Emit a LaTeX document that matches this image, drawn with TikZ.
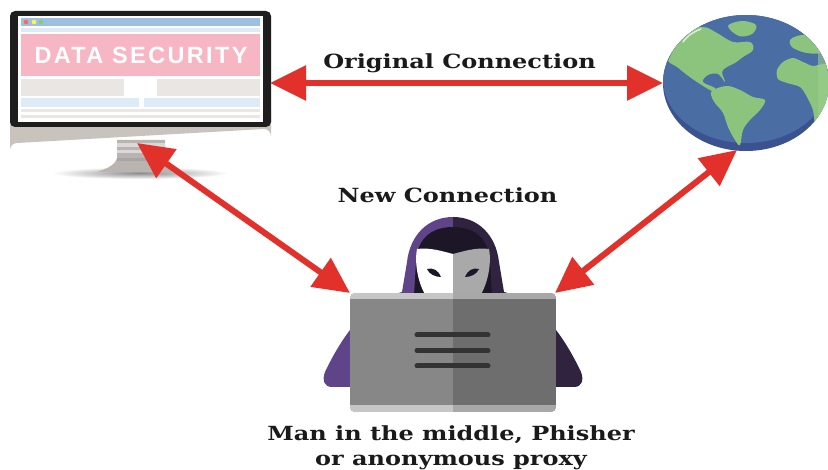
\documentclass[tikz,border=0pt]{standalone}
\usepackage{fontspec}
\usetikzlibrary{arrows.meta}
\newfontfamily\capfont{DejaVu Serif}[FakeStretch=1.23]
\newfontfamily\bannerfont{Liberation Sans}[LetterSpace=10]

\definecolor{arrowred}{HTML}{E2312B}
\definecolor{bezel}{HTML}{1E1E1E}
\definecolor{chin}{HTML}{C9C3BD}
\definecolor{standgrey}{HTML}{B9B4AF}
\definecolor{barblue}{HTML}{9DC0E0}
\definecolor{paleblue}{HTML}{DDEBF6}
\definecolor{bannerpink}{HTML}{F6B6C4}
\definecolor{boxgrey}{HTML}{EAE6E3}
\definecolor{seablue}{HTML}{4A6DA3}
\definecolor{seadark}{HTML}{3B5290}
\definecolor{land}{HTML}{8CC47E}
\definecolor{landlight}{HTML}{9ACF8C}
\definecolor{hoodlight}{HTML}{5F4489}
\definecolor{hooddark}{HTML}{30233F}
\definecolor{hoodin}{HTML}{1C1627}
\definecolor{maskgrey}{HTML}{A9A9A9}
\definecolor{lapleft}{HTML}{878787}
\definecolor{lapright}{HTML}{6E6E6E}
\definecolor{lapedgeL}{HTML}{C6C6C6}
\definecolor{lapedgeR}{HTML}{A8A8A8}
\definecolor{inkdark}{HTML}{1A1A1A}

\tikzset{
  lbl/.style={font=\capfont\bfseries\fontsize{19.5}{22}\selectfont, text=inkdark, inner sep=0pt, anchor=base},
  conn/.style={draw=arrowred, fill=arrowred, line width=6pt,
    {Triangle[length=36pt,width=34pt]}-{Triangle[length=36pt,width=34pt]}},
  menuline/.style={draw=black!80, line width=5pt, line cap=round},
}

\begin{document}
\begin{tikzpicture}[x=1pt,y=-1pt]
\useasboundingbox (0,0) rectangle (828,470);
\fill[white] (0,0) rectangle (828,470);

% ---------- desktop computer ----------
\shade[inner color=black!45, outer color=white] (140,173) ellipse [x radius=88pt, y radius=6pt];
% stand
\fill[standgrey] (117,140) -- (165,140) -- (165,158)
  .. controls (167,166) and (173,169) .. (181,172) -- (97,172)
  .. controls (105,169) and (115,166) .. (117,158) -- cycle;
\fill[black!15] (117,150) rectangle (165,153);
\fill[black!35] (117,158) rectangle (165,161);
\fill[white!85!black] (117,143) rectangle (165,147);
% body
\fill[chin] (10,110) -- (271,110) -- (271,136) arc[start angle=0, end angle=90, radius=7pt]
  -- (17,143) arc[start angle=90, end angle=180, radius=7pt] -- cycle;
\fill[bezel, rounded corners=5pt] (10,11) rectangle (271,127);
\fill[white] (18,16) rectangle (263,122);
% screen contents
\fill[barblue] (21,18) rectangle (260,26);
\fill[red!60!white] (26,22) circle[radius=2.3pt];
\fill[yellow!70!white] (34,22) circle[radius=2.3pt];
\fill[green!45!gray!70!white] (41,22) circle[radius=2.3pt];
\fill[paleblue] (21,28) rectangle (260,32);
\fill[bannerpink] (21,34) rectangle (260,76);
\node[font=\bannerfont\bfseries\fontsize{23.5}{26}\selectfont, text=white, inner sep=0pt] (banner) at (141,55.5) {DATA SECURITY};
\fill[boxgrey] (21,79) rectangle (124,96);
\fill[boxgrey] (157,79) rectangle (260,96);
\fill[paleblue] (21,98) rectangle (139,107);
\fill[paleblue] (144,98) rectangle (260,107);
\fill[boxgrey] (21,109) rectangle (260,112);
\fill[boxgrey] (21,115) rectangle (260,118);

% ---------- globe ----------
\fill[seadark] (746,83) ellipse [x radius=83pt, y radius=68pt];
\begin{scope}
  \clip (746,83) ellipse [x radius=83pt, y radius=68pt];
  \fill[seablue] (746,79) ellipse [x radius=83pt, y radius=64pt];
  % North America
  \fill[land] plot[smooth cycle, tension=0.6] coordinates {
    (670,57) (683,33) (703,27) (717,33) (733,42) (750,42) (753,50) (743,57)
    (735,63) (727,67) (722,72) (725,82) (718,74) (708,75) (703,82) (715,88)
    (712,91) (697,82) (687,75) (677,67) (669,62)};
  % Greenland and islands
  \fill[land] plot[smooth cycle, tension=0.6] coordinates {
    (728,26) (742,21) (756,25) (752,34) (739,36)};
  % South America
  \fill[land] plot[smooth cycle, tension=0.6] coordinates {
    (713,90) (727,86) (740,90) (753,97) (765,100) (760,110) (750,120)
    (743,130) (740,145) (735,140) (728,127) (723,113) (715,103) (711,95)};
  % Europe
  \fill[land] plot[smooth cycle, tension=0.6] coordinates {
    (790,40) (797,36) (807,35) (817,40) (825,36) (835,45) (820,53)
    (807,53) (797,50) (791,46)};
  % Africa
  \fill[land] plot[smooth cycle, tension=0.5] coordinates {
    (777,70) (783,62) (793,58) (803,62) (813,66) (823,64) (840,66)
    (840,135) (817,127) (813,110) (807,97) (800,87) (787,83) (778,79)};
  \fill[landlight, opacity=0.6] (818,20) rectangle (840,150);
  \draw[white!70!land, line width=1.5pt, line cap=round]
    (683,42) .. controls (688,35) and (695,31) .. (701,29);
\end{scope}

% ---------- hooded figure ----------
\begin{scope}
  \clip (300,200) rectangle (453,400);
  \fill[hoodlight] (453,217) .. controls (428,217) and (410,235) .. (407,262)
    -- (402,292) .. controls (370,300) and (345,330) .. (325,372)
    .. controls (322,380) and (324,387) .. (332,387) -- (574,387)
    .. controls (582,387) and (584,380) .. (581,372)
    .. controls (561,330) and (536,300) .. (504,292) -- (499,262)
    .. controls (496,235) and (478,217) .. (453,217) -- cycle;
\end{scope}
\begin{scope}
  \clip (453,200) rectangle (600,400);
  \fill[hooddark] (453,217) .. controls (428,217) and (410,235) .. (407,262)
    -- (402,292) .. controls (370,300) and (345,330) .. (325,372)
    .. controls (322,380) and (324,387) .. (332,387) -- (574,387)
    .. controls (582,387) and (584,380) .. (581,372)
    .. controls (561,330) and (536,300) .. (504,292) -- (499,262)
    .. controls (496,235) and (478,217) .. (453,217) -- cycle;
\end{scope}
% hood opening
\fill[hoodin] (453,227) .. controls (430,227) and (417,240) .. (416,262)
  -- (414,296) -- (492,296) -- (490,262)
  .. controls (489,240) and (476,227) .. (453,227) -- cycle;
% mask
\begin{scope}
  \clip (400,240) rectangle (453,300);
  \fill[white] (417,249) .. controls (430,247) and (445,252) .. (453,254)
    .. controls (461,252) and (476,247) .. (489,249)
    .. controls (492,265) and (487,285) .. (480,296) -- (426,296)
    .. controls (419,285) and (414,265) .. (417,249) -- cycle;
\end{scope}
\begin{scope}
  \clip (453,240) rectangle (500,300);
  \fill[maskgrey] (417,249) .. controls (430,247) and (445,252) .. (453,254)
    .. controls (461,252) and (476,247) .. (489,249)
    .. controls (492,265) and (487,285) .. (480,296) -- (426,296)
    .. controls (419,285) and (414,265) .. (417,249) -- cycle;
\end{scope}
% eyes
\fill[hoodin] (427,269) .. controls (433,267) and (439,271) .. (441,277)
  .. controls (435,277) and (429,274) .. (427,269) -- cycle;
\fill[hoodin] (479,269) .. controls (473,267) and (467,271) .. (465,277)
  .. controls (471,277) and (477,274) .. (479,269) -- cycle;

% laptop
\node[minimum width=0pt, inner sep=0pt] (laptop) at (453,352.5) {};
\begin{scope}
  \clip[rounded corners=5pt] (350,293) rectangle (556,412);
  \fill[lapleft] (350,293) rectangle (453,412);
  \fill[lapright] (453,293) rectangle (556,412);
  \fill[lapedgeL] (350,293) rectangle (453,299);
  \fill[lapedgeR] (453,293) rectangle (556,299);
  \fill[lapedgeL] (350,405) rectangle (453,412);
  \fill[lapedgeR] (453,405) rectangle (556,412);
\end{scope}
\draw[menuline] (417,335) -- (488,335);
\draw[menuline] (417,350.5) -- (488,350.5);
\draw[menuline] (417,366) -- (488,366);

% ---------- connections ----------
\coordinate (pcright) at (270,83);
\coordinate (globeleft) at (663,83);
\coordinate (pcstand) at (137,143);
\coordinate (lapleftcorner) at (350,293);
\coordinate (globebottom) at (737,150);
\coordinate (laprightcorner) at (555,293);

\draw[conn] (pcright) -- (globeleft);
\draw[conn] (pcstand) -- (lapleftcorner);
\draw[conn] (globebottom) -- (laprightcorner);

% ---------- labels ----------
\node[lbl] (orig) at (459.5,69) {Original Connection};
\node[lbl] (newconn) at (447.5,203) {New Connection};
\node[lbl] (mitmA) at (451,441) {Man in the middle, Phisher};
\node[lbl] (mitmB) at (451,465) {or anonymous proxy};
\end{tikzpicture}
\end{document}
